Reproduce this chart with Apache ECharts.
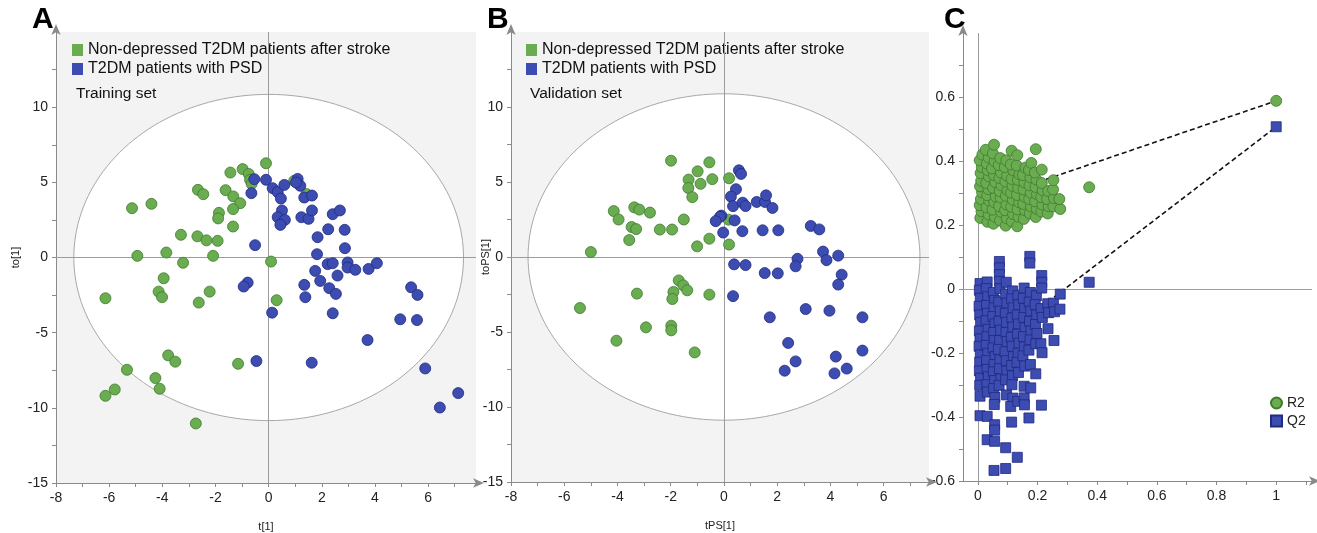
<!DOCTYPE html>
<html><head><meta charset="utf-8">
<script src="https://cdn.jsdelivr.net/npm/echarts@6/dist/echarts.min.js"></script>
<style>html,body{margin:0;padding:0;background:#fff}#c{width:1317px;height:533px}</style>
</head><body><div id="c"></div><script>
// ---------- data ----------
const nameGreen = 'Non-depressed T2DM patients after stroke';
const nameBlue = 'T2DM patients with PSD';

const trainGreen = [[-0.1,6.27],[-0.98,5.88],[-0.75,5.56],[-1.44,5.65],[-0.7,5.17],[-0.64,4.9],[0.96,5.1],[-2.66,4.5],[-2.46,4.21],[-1.62,4.48],[-1.33,4.06],[-1.07,3.61],[-5.14,3.28],[-4.41,3.57],[-1.87,2.97],[-1.9,2.6],[-1.34,3.22],[-1.34,2.06],[-3.3,1.51],[-2.68,1.41],[-2.34,1.14],[-1.92,1.11],[-4.94,0.11],[-3.85,0.33],[-2.09,0.11],[-3.22,-0.35],[0.09,-0.27],[1.42,4.22],
[-3.95,-1.38],[-6.14,-2.71],[-4.14,-2.27],[-4.01,-2.64],[-2.22,-2.27],[-2.63,-3.0],[0.3,-2.84],[-3.78,-6.51],[-3.51,-6.93],[-5.33,-7.47],[-4.26,-8.02],[-4.1,-8.73],[-5.79,-8.78],[-6.14,-9.2],[-1.15,-7.07],[-2.74,-11.04]];

const trainBlue = [[-0.54,5.21],[-0.65,4.28],[-0.1,5.17],[0.15,4.61],[0.34,4.35],[0.59,4.83],[0.46,3.92],[1.09,5.23],[1.19,4.77],[1.03,4.99],[1.34,3.99],[1.63,4.12],[0.5,3.13],[0.34,2.68],[0.61,2.5],[0.44,2.17],[1.23,2.68],[1.5,2.57],[1.63,3.13],[2.41,2.88],[2.68,3.13],[2.24,1.88],[2.86,1.84],[1.84,1.35],[-0.51,0.82],[2.87,0.62],[1.82,0.22],
[-0.79,-1.67],[-0.94,-1.93],[0.13,-3.67],[1.34,-1.82],[1.38,-2.64],[1.75,-0.89],[1.94,-1.56],[2.22,-0.44],[2.41,-0.38],[2.28,-2.04],[2.53,-2.42],[2.59,-1.2],[2.41,-3.71],[2.97,-0.33],[2.97,-0.67],[3.26,-0.82],[3.76,-0.76],[4.07,-0.38],[3.72,-5.49],[4.95,-4.11],[5.58,-4.16],[5.36,-1.98],[5.6,-2.49],[-0.46,-6.89],[1.62,-7.0],[5.89,-7.38],[6.44,-9.98],[7.13,-9.02]];

const validGreen = [[-1.99,6.42],[-0.55,6.31],[-0.99,5.71],[-1.33,5.16],[-0.88,4.88],[-0.44,5.19],[0.19,5.25],[-1.34,4.6],[-1.19,3.99],[-4.14,3.06],[-3.96,2.5],[-3.37,3.31],[-3.18,3.16],[-2.78,2.96],[-3.47,2.0],[-3.3,1.86],[-3.56,1.13],[-2.41,1.83],[-1.95,1.83],[-1.51,2.5],[-1.01,0.71],[-0.55,1.22],[0.19,0.83],[0.17,2.49],[-5.0,0.33],
[-1.7,-1.56],[-1.53,-1.89],[-1.38,-2.22],[-1.9,-2.33],[-1.94,-2.8],[-3.27,-2.44],[-0.55,-2.51],[-5.41,-3.4],[-2.93,-4.69],[-1.98,-4.58],[-1.98,-4.89],[-4.04,-5.58],[-1.1,-6.36]];

const validBlue = [[0.56,5.78],[0.64,5.54],[0.45,4.52],[0.26,4.03],[0.34,3.39],[0.7,3.62],[0.81,3.4],[1.23,3.67],[1.54,3.67],[1.58,4.11],[1.82,3.27],[-0.1,2.76],[-0.15,2.68],[-0.31,2.39],[0.4,2.44],[-0.03,1.63],[0.69,1.72],[1.45,1.78],[2.04,1.78],[3.26,2.07],[3.58,1.84],[3.72,0.36],[3.85,-0.21],[4.29,0.09],[2.76,-0.12],
[0.38,-0.49],[0.81,-0.54],[1.53,-1.07],[2.02,-1.09],[2.69,-0.62],[4.42,-1.18],[4.29,-1.84],[0.34,-2.61],[3.07,-3.47],[3.96,-3.58],[1.72,-4.02],[5.2,-4.02],[2.41,-5.73],[2.69,-6.96],[2.28,-7.58],[4.2,-6.64],[5.2,-6.24],[4.15,-7.76],[4.61,-7.44]];

const permR2 = [
[0.008,0.222],[0.012,0.243],[0.006,0.262],[0.010,0.281],[0.014,0.302],[0.007,0.321],[0.011,0.338],[0.009,0.362],[0.013,0.381],[0.006,0.402],[0.015,0.420],
[0.032,0.210],[0.036,0.233],[0.029,0.255],[0.038,0.276],[0.031,0.293],[0.035,0.312],[0.028,0.331],[0.037,0.352],[0.033,0.371],[0.030,0.392],[0.036,0.411],[0.026,0.435],
[0.052,0.204],[0.057,0.226],[0.049,0.248],[0.055,0.271],[0.060,0.289],[0.051,0.316],[0.058,0.334],[0.054,0.356],[0.047,0.377],[0.056,0.399],[0.050,0.424],[0.054,0.451],
[0.074,0.214],[0.078,0.241],[0.071,0.259],[0.076,0.286],[0.073,0.306],[0.079,0.324],[0.072,0.347],[0.077,0.364],[0.070,0.387],[0.075,0.409],
[0.093,0.198],[0.097,0.221],[0.091,0.246],[0.096,0.264],[0.094,0.291],[0.099,0.309],[0.092,0.336],[0.098,0.354],[0.090,0.381],[0.095,0.402],
[0.114,0.211],[0.118,0.234],[0.112,0.257],[0.117,0.279],[0.111,0.301],[0.116,0.322],[0.113,0.344],[0.119,0.371],[0.110,0.389],[0.113,0.432],
[0.132,0.196],[0.136,0.226],[0.133,0.249],[0.138,0.271],[0.131,0.294],[0.135,0.316],[0.134,0.341],[0.139,0.359],[0.130,0.386],[0.132,0.418],
[0.154,0.219],[0.158,0.246],[0.152,0.266],[0.157,0.288],[0.153,0.311],[0.156,0.333],[0.151,0.356],[0.159,0.379],
[0.174,0.236],[0.178,0.258],[0.172,0.281],[0.177,0.301],[0.173,0.324],[0.176,0.349],[0.171,0.372],[0.179,0.394],
[0.194,0.225],[0.197,0.251],[0.192,0.274],[0.198,0.296],[0.193,0.319],[0.196,0.342],[0.191,0.364],[0.194,0.437],
[0.213,0.242],[0.216,0.264],[0.212,0.287],[0.217,0.309],[0.214,0.331],[0.214,0.373],
[0.234,0.236],[0.237,0.259],[0.232,0.281],[0.236,0.306],
[0.253,0.258],[0.255,0.284],[0.252,0.311],[0.253,0.340],
[0.276,0.250],[0.273,0.281],
[0.373,0.318],
[1.0,0.588]];

const permQ2 = [
[0.007,0.017],[0.005,-0.004],[0.008,-0.029],[0.004,-0.054],[0.006,-0.081],[0.009,-0.104],[0.005,-0.131],[0.007,-0.156],[0.004,-0.179],[0.008,-0.206],[0.006,-0.229],[0.005,-0.256],[0.009,-0.279],[0.006,-0.301],[0.007,-0.335],[0.007,-0.396],
[0.031,0.022],[0.028,0.001],[0.033,-0.024],[0.029,-0.051],[0.032,-0.076],[0.027,-0.099],[0.034,-0.126],[0.030,-0.149],[0.028,-0.176],[0.033,-0.201],[0.029,-0.224],[0.031,-0.251],[0.035,-0.274],[0.030,-0.299],[0.032,-0.322],[0.031,-0.398],[0.031,-0.471],
[0.052,-0.011],[0.056,-0.036],[0.054,-0.059],[0.050,-0.086],[0.057,-0.109],[0.053,-0.136],[0.055,-0.161],[0.051,-0.184],[0.058,-0.211],[0.054,-0.236],[0.052,-0.259],[0.056,-0.286],[0.053,-0.311],[0.057,-0.339],[0.055,-0.361],[0.056,-0.424],[0.056,-0.441],[0.056,-0.476],[0.054,-0.567],
[0.072,0.086],[0.072,0.066],[0.072,0.045],[0.072,0.024],[0.074,0.001],[0.070,-0.041],[0.075,-0.069],[0.071,-0.101],[0.076,-0.129],[0.073,-0.161],[0.069,-0.189],[0.074,-0.221],[0.072,-0.249],[0.077,-0.281],[0.071,-0.301],
[0.095,0.021],[0.093,-0.016],[0.097,-0.044],[0.092,-0.076],[0.096,-0.104],[0.094,-0.136],[0.098,-0.164],[0.091,-0.196],[0.095,-0.224],[0.097,-0.256],[0.093,-0.284],[0.096,-0.331],[0.093,-0.496],[0.093,-0.561],
[0.116,-0.006],[0.113,-0.031],[0.118,-0.059],[0.114,-0.091],[0.117,-0.119],[0.112,-0.151],[0.115,-0.179],[0.119,-0.211],[0.113,-0.239],[0.116,-0.271],[0.114,-0.299],[0.117,-0.341],[0.110,-0.367],[0.113,-0.416],
[0.134,-0.021],[0.137,-0.049],[0.132,-0.081],[0.136,-0.109],[0.133,-0.141],[0.138,-0.169],[0.135,-0.201],[0.131,-0.229],[0.136,-0.261],[0.134,-0.351],[0.132,-0.526],
[0.155,0.003],[0.152,-0.029],[0.157,-0.061],[0.154,-0.089],[0.158,-0.121],[0.153,-0.149],[0.156,-0.181],[0.151,-0.209],[0.157,-0.241],[0.155,-0.304],[0.155,-0.340],[0.156,-0.362],
[0.174,0.102],[0.174,0.081],[0.176,-0.011],[0.172,-0.041],[0.177,-0.069],[0.173,-0.101],[0.178,-0.131],[0.175,-0.159],[0.171,-0.191],[0.176,-0.236],[0.177,-0.309],[0.171,-0.403],
[0.196,-0.021],[0.192,-0.049],[0.197,-0.081],[0.193,-0.111],[0.198,-0.139],[0.194,-0.171],[0.194,-0.265],
[0.214,0.042],[0.214,0.021],[0.214,0.003],[0.212,-0.061],[0.216,-0.089],[0.211,-0.171],[0.215,-0.199],[0.213,-0.363],
[0.234,-0.046],[0.237,-0.074],[0.235,-0.124],
[0.253,-0.044],[0.257,-0.071],[0.255,-0.161],
[0.276,-0.016],[0.275,-0.063],
[0.373,0.021],
[1.0,0.507]];

const r2Fit = [[0,0.27],[1,0.588]];
const q2Fit = [[0,-0.208],[1,0.507]];

// Hotelling T2 ellipse semi-axes
const ellipseA = [7.33, 10.85];
const ellipseB = [7.36, 10.88];

// tick labels
const abXLabels = [-8,-6,-4,-2,0,2,4,6];
const abXTicks = [-8,-7,-6,-5,-4,-3,-2,-1,0,1,2,3,4,5,6,7];
const abYLabels = [-15,-10,-5,0,5,10];
const abYTicks = [-15,-12.5,-10,-7.5,-5,-2.5,0,2.5,5,7.5,10,12.5];
const cXLabels = [0,0.2,0.4,0.6,0.8,1];
const cXTicks = [0,0.1,0.2,0.3,0.4,0.5,0.6,0.7,0.8,0.9,1,1.1];
const cYLabels = [-0.6,-0.4,-0.2,0,0.2,0.4,0.6];
const cYTicks = [-0.6,-0.5,-0.4,-0.3,-0.2,-0.1,0,0.1,0.2,0.3,0.4,0.5,0.6,0.7];

// ---------- styles ----------
const FONT = 'Liberation Sans, Arial, sans-serif';
const GREEN = '#6aac50', GREEN_B = '#3f7a2e';
const BLUE = '#3c4cb0', BLUE_B = '#202a80';
const AXC = '#8a8a8a';

function xAxisCfg(grid, min, max, labels, ticks, name, gap) {
  return {
    type: 'value', gridIndex: grid, min: min, max: max,
    name: name, nameLocation: 'middle', nameGap: gap, nameMoveOverlap: false,
    nameTextStyle: {fontFamily: FONT, fontSize: 11, color: '#222'},
    axisLine: {show: true, onZero: false, symbol: ['none','arrow'], symbolSize: [7,11], symbolOffset: [0,8], lineStyle: {color: AXC, width: 1}},
    axisTick: {show: true, customValues: ticks, length: 4, lineStyle: {color: AXC}},
    axisLabel: {customValues: labels, fontFamily: FONT, fontSize: 14, color: '#222', margin: 8},
    splitLine: {show: false}
  };
}
function yAxisCfg(grid, min, max, labels, ticks, name, gap) {
  return {
    type: 'value', gridIndex: grid, min: min, max: max,
    name: name, nameLocation: 'middle', nameGap: gap, nameRotate: 90, nameMoveOverlap: false,
    nameTextStyle: {fontFamily: FONT, fontSize: 11, color: '#222'},
    axisLine: {show: true, onZero: false, symbol: ['none','arrow'], symbolSize: [7,11], symbolOffset: [0,8], lineStyle: {color: AXC, width: 1}},
    axisTick: {show: true, customValues: ticks, length: 4, lineStyle: {color: AXC}},
    axisLabel: {customValues: labels, fontFamily: FONT, fontSize: 14, color: '#222', margin: 8},
    splitLine: {show: false}
  };
}
function ellipseSeries(idx, semi) {
  return {
    type: 'custom', xAxisIndex: idx, yAxisIndex: idx, z: 1, silent: true,
    data: [[0,0]],
    renderItem: function (params, api) {
      const pts = [];
      for (let i = 0; i <= 180; i++) {
        const t = i / 180 * Math.PI * 2;
        pts.push(api.coord([semi[0] * Math.cos(t), semi[1] * Math.sin(t)]));
      }
      return {type: 'polygon', shape: {points: pts}, style: {fill: '#ffffff', stroke: '#a8a8a8', lineWidth: 1}};
    }
  };
}
function zeroLines(idx) {
  return {
    type: 'line', xAxisIndex: idx, yAxisIndex: idx, data: [], z: 2, silent: true,
    markLine: {silent: true, symbol: ['none','none'], animation: false, label: {show: false},
      lineStyle: {color: '#9c9c9c', width: 1, type: 'solid'},
      emphasis: {disabled: true},
      data: [{xAxis: 0}, {yAxis: 0}]}
  };
}
function pts(idx, name, data, col, border, size, symbol) {
  return {
    type: 'scatter', name: name, xAxisIndex: idx, yAxisIndex: idx, data: data, z: 5,
    symbol: symbol || 'circle', symbolSize: size,
    itemStyle: {color: col, borderColor: border, borderWidth: 0.8, opacity: 1}
  };
}
function legendAB(left) {
  return {data: [nameGreen, nameBlue], orient: 'vertical', left: left, top: 37, icon: 'rect', itemWidth: 11, itemHeight: 12, itemGap: 3,
    itemStyle: {borderWidth: 0},
    textStyle: {fontFamily: FONT, fontSize: 16, color: '#111'}, selectedMode: false};
}

const option = {
  animation: false,
  backgroundColor: '#ffffff',
  grid: [
    {left: 56, top: 32, width: 420, height: 451, show: true, backgroundColor: '#f3f3f3', borderWidth: 0, outerBoundsMode: 'none', containLabel: false},
    {left: 511, top: 32, width: 418, height: 450, show: true, backgroundColor: '#f3f3f3', borderWidth: 0, outerBoundsMode: 'none', containLabel: false},
    {left: 963, top: 33, width: 349, height: 448, show: false, outerBoundsMode: 'none', containLabel: false}
  ],
  xAxis: [
    xAxisCfg(0, -8, 7.8, abXLabels, abXTicks, 't[1]', 38),
    xAxisCfg(1, -8, 7.7, abXLabels, abXTicks, 'tPS[1]', 38),
    xAxisCfg(2, -0.05, 1.12, cXLabels, cXTicks, '', 30)
  ],
  yAxis: [
    yAxisCfg(0, -15, 15, abYLabels, abYTicks, 'to[1]', 35),
    yAxisCfg(1, -15, 15, abYLabels, abYTicks, 'toPS[1]', 20),
    yAxisCfg(2, -0.6, 0.8, cYLabels, cYTicks, '', 30)
  ],
  legend: [
    legendAB(67),
    legendAB(521),
    {data: [{name: 'R2', icon: 'circle'}, {name: 'Q2', icon: 'rect'}], orient: 'vertical', left: 1265, top: 391, itemWidth: 11, itemHeight: 11, itemGap: 4,
     textStyle: {fontFamily: FONT, fontSize: 14, color: '#222'}, selectedMode: false}
  ],
  graphic: [
    {type: 'text', left: 32, top: 5, style: {text: 'A', font: 'bold 30px ' + FONT, fill: '#000'}},
    {type: 'text', left: 487, top: 5, style: {text: 'B', font: 'bold 30px ' + FONT, fill: '#000'}},
    {type: 'text', left: 944, top: 5, style: {text: 'C', font: 'bold 30px ' + FONT, fill: '#000'}},
    {type: 'text', left: 76, top: 86, style: {text: 'Training set', font: '15.5px ' + FONT, fill: '#111'}},
    {type: 'text', left: 530, top: 86, style: {text: 'Validation set', font: '15.5px ' + FONT, fill: '#111'}}
  ],
  series: [
    ellipseSeries(0, ellipseA), zeroLines(0),
    pts(0, nameGreen, trainGreen, GREEN, GREEN_B, 11),
    pts(0, nameBlue, trainBlue, BLUE, BLUE_B, 11),
    ellipseSeries(1, ellipseB), zeroLines(1),
    pts(1, nameGreen, validGreen, GREEN, GREEN_B, 11),
    pts(1, nameBlue, validBlue, BLUE, BLUE_B, 11),
    zeroLines(2),
    {type: 'line', name: 'r2fit', xAxisIndex: 2, yAxisIndex: 2, data: r2Fit, z: 3, symbol: 'none', silent: true,
     lineStyle: {color: '#111', width: 1.6, type: [5,3]}},
    {type: 'line', name: 'q2fit', xAxisIndex: 2, yAxisIndex: 2, data: q2Fit, z: 3, symbol: 'none', silent: true,
     lineStyle: {color: '#111', width: 1.6, type: [5,3]}},
    pts(2, 'R2', permR2, GREEN, GREEN_B, 11, 'circle'),
    pts(2, 'Q2', permQ2, BLUE, BLUE_B, 10, 'rect')
  ]
};
const chart = echarts.init(document.getElementById('c'), null, {renderer: 'canvas'});
chart.setOption(option);
</script></body></html>
